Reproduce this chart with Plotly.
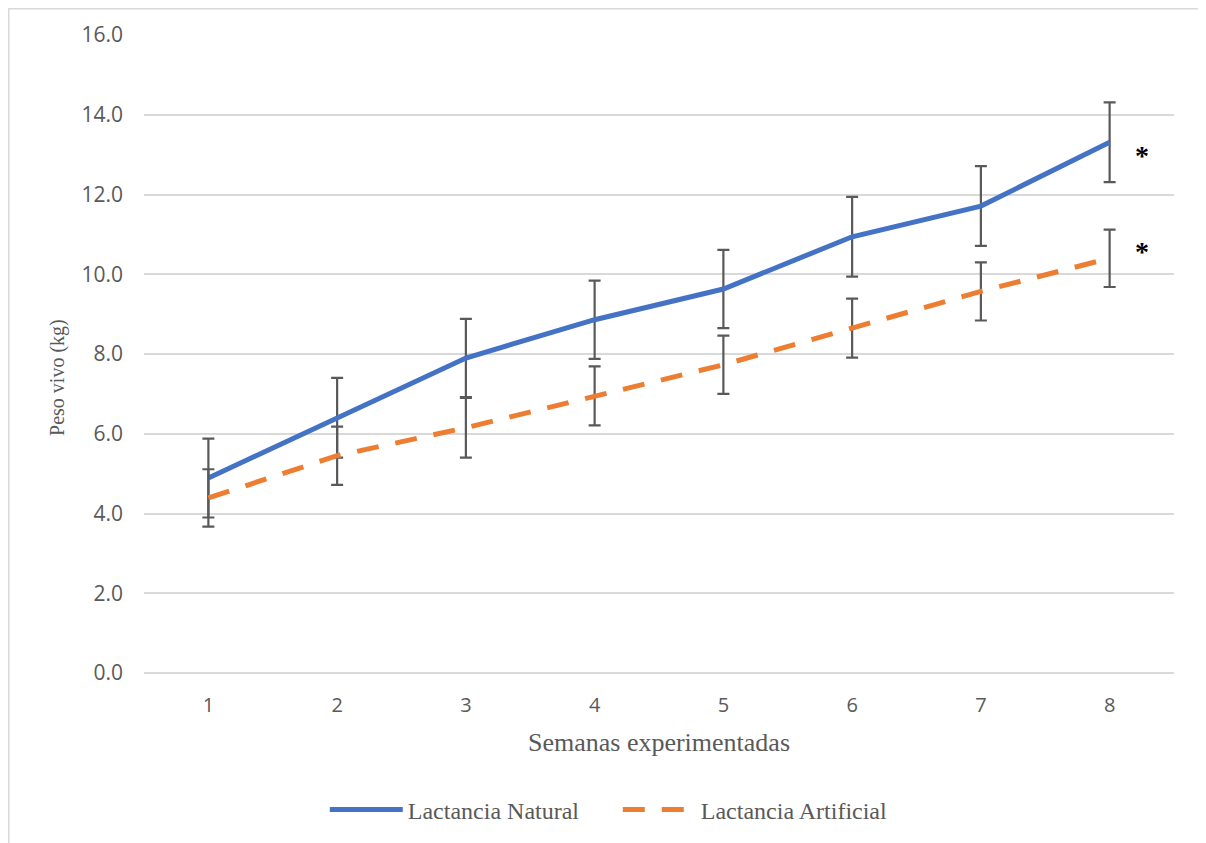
import plotly.graph_objects as go

weeks = [1, 2, 3, 4, 5, 6, 7, 8]
natural = [4.89, 6.40, 7.90, 8.86, 9.63, 10.94, 11.71, 13.31]
natural_err = [0.99, 1.00, 0.98, 0.98, 0.98, 1.00, 1.00, 1.00]
artificial = [4.39, 5.45, 6.15, 6.95, 7.73, 8.65, 9.57, 10.40]
artificial_err = [0.72, 0.73, 0.75, 0.74, 0.73, 0.74, 0.73, 0.72]
y_ticks = [0, 2, 4, 6, 8, 10, 12, 14, 16]
star_y = [13.09, 10.68]

BLUE = "#4472C4"
ORANGE = "#ED7D31"
DASH = "22px,17px"

fig = go.Figure()
fig.add_trace(go.Scatter(
    x=weeks, y=natural, mode="lines", name="Lactancia Natural",
    line=dict(color=BLUE, width=5),
    error_y=dict(type="data", array=natural_err, visible=True,
                 color="#595959", thickness=2.2, width=6),
))
fig.add_trace(go.Scatter(
    x=weeks, y=artificial, mode="lines", name="Lactancia Artificial",
    line=dict(color=ORANGE, width=5, dash=DASH),
    error_y=dict(type="data", array=artificial_err, visible=True,
                 color="#595959", thickness=2.2, width=6),
))

for yv in star_y:
    fig.add_annotation(x=8.25, y=yv, text="<b>*</b>", showarrow=False,
                       font=dict(family="Liberation Serif", size=28, color="black"),
                       yshift=-4)

fig.add_shape(type="rect", xref="paper", yref="paper",
              x0=-0.1313, x1=1.0243, y0=-0.37, y1=1.0411,
              line=dict(color="#d9d9d9", width=1.5), layer="below")

fig.update_layout(
    width=1206, height=843,
    margin=dict(l=136, r=40, t=27, b=178),
    paper_bgcolor="white", plot_bgcolor="white",
    showlegend=True,
    legend=dict(orientation="h", x=0.46, xanchor="center", y=-0.2147, yanchor="middle",
                font=dict(family="Liberation Serif", size=24, color="#595959"),
                itemwidth=73, entrywidth=205, tracegroupgap=0),
    xaxis=dict(range=[0.5, 8.5], tickmode="array", tickvals=weeks,
               ticktext=[str(w) for w in weeks], showgrid=False, zeroline=False,
               showline=False, ticks="", ticklabelstandoff=18,
               tickfont=dict(family="Open Sans", size=20, color="#595959"),
               title=dict(text="Semanas experimentadas", standoff=15,
                          font=dict(family="Liberation Serif", size=26, color="#595959"))),
    yaxis=dict(range=[0, 16], tickmode="array", tickvals=y_ticks,
               ticktext=[f"{v:.1f}" for v in y_ticks],
               showgrid=True, gridcolor="#d9d9d9", gridwidth=1.6,
               zeroline=True, zerolinecolor="#d9d9d9", zerolinewidth=1.6,
               showline=False, ticks="", ticklabelstandoff=20,
               tickfont=dict(family="Open Sans", size=21, color="#595959")),
)

# y-axis title as an annotation, further left than Plotly's automatic position
fig.add_annotation(xref="paper", yref="paper", x=-0.0835, y=0.464,
                   text="Peso vivo (kg)", textangle=-90, showarrow=False,
                   xanchor="center", yanchor="middle",
                   font=dict(family="Liberation Serif", size=20, color="#595959"))

fig.write_html("out.html")
